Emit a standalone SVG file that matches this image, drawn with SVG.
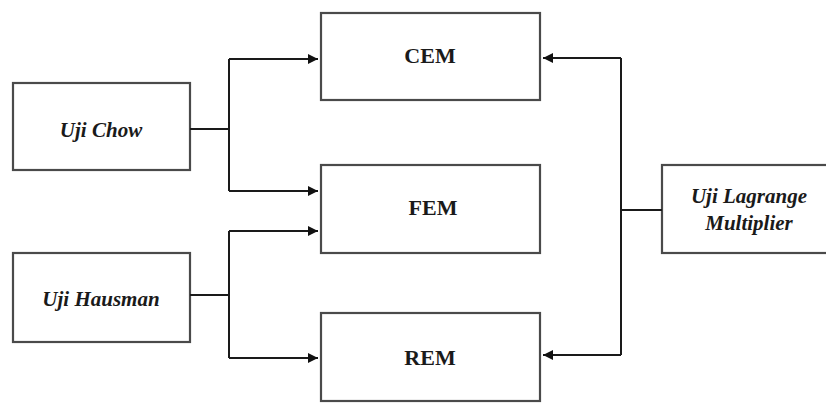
<svg xmlns="http://www.w3.org/2000/svg" width="826" height="403" viewBox="0 0 826 403">
<defs>
<marker id="arr" viewBox="0 0 10 10" refX="10" refY="5" markerWidth="10" markerHeight="10" markerUnits="userSpaceOnUse" orient="auto">
<path d="M0,0 L10,5 L0,10 z" fill="#111"/>
</marker>
<style>
.box{fill:#fff;stroke:#4a4a4a;stroke-width:2.2}
.lbl{font-family:"Liberation Serif","DejaVu Serif",serif;font-weight:bold;font-size:21px;fill:#1a1a1a;text-anchor:middle}
.up{font-size:22px}
.it{font-style:italic}
.c{fill:none;stroke:#1a1a1a;stroke-width:2}
</style>
</defs>
<rect width="826" height="403" fill="#fff"/>
<g id="cem"><rect class="box" x="321" y="13" width="219" height="87"/><text class="lbl up" x="430" y="63">CEM</text></g>
<g id="fem"><rect class="box" x="321" y="165" width="219" height="88"/><text class="lbl up" x="433" y="215">FEM</text></g>
<g id="rem"><rect class="box" x="321" y="313" width="219" height="88"/><text class="lbl up" x="430" y="365">REM</text></g>
<g id="uji-chow"><rect class="box" x="13" y="83" width="177" height="87"/><text class="lbl it" x="101" y="137">Uji Chow</text></g>
<g id="uji-hausman"><rect class="box" x="13" y="253" width="177" height="89"/><text class="lbl it" x="101" y="306">Uji Hausman</text></g>
<g id="uji-lm"><rect class="box" x="662" y="165" width="180" height="88"/><text class="lbl it" x="749" y="203">Uji Lagrange</text><text class="lbl it" x="749" y="230">Multiplier</text></g>
<g id="connectors">
<path class="c" d="M190,129 H229"/>
<path class="c" d="M229,59 V191" />
<path class="c" d="M229,59 H318" marker-end="url(#arr)"/>
<path class="c" d="M229,191 H318" marker-end="url(#arr)"/>
<path class="c" d="M190,295 H229"/>
<path class="c" d="M229,231 V358"/>
<path class="c" d="M229,231 H318" marker-end="url(#arr)"/>
<path class="c" d="M229,358 H318" marker-end="url(#arr)"/>
<path class="c" d="M662,210 H621"/>
<path class="c" d="M621,58 V355"/>
<path class="c" d="M621,58 H543" marker-end="url(#arr)"/>
<path class="c" d="M621,355 H543" marker-end="url(#arr)"/>
</g>
</svg>
